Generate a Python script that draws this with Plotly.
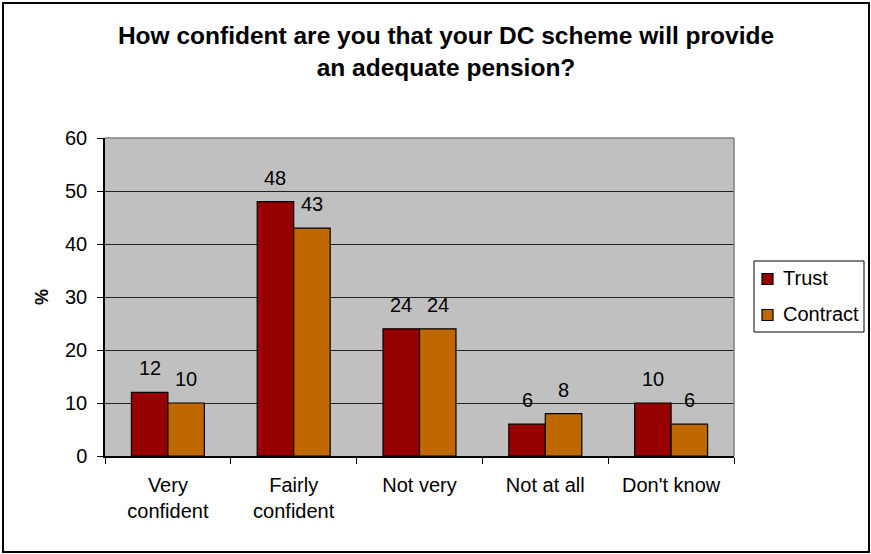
import plotly.graph_objects as go

categories = ["Very<br>confident", "Fairly<br>confident", "Not very", "Not at all", "Don't know"]
series_names = ["Trust", "Contract"]
trust = [12, 48, 24, 6, 10]
contract = [10, 43, 24, 8, 6]
y_ticks = [0, 10, 20, 30, 40, 50, 60]

TRUST_COLOR = "#960000"
CONTRACT_COLOR = "#C06800"
FONT = "Liberation Sans, Arial, sans-serif"
TXT = 20

W, H = 871, 554
ML, MR, MT, MB = 105, 137, 138, 98
plot_w = W - ML - MR
plot_h = H - MT - MB


def px_x(p):
    return (p - ML) / plot_w


def px_y(p):
    return (H - MB - p) / plot_h


fig = go.Figure()
for name, vals, color in zip(series_names, (trust, contract), (TRUST_COLOR, CONTRACT_COLOR)):
    fig.add_trace(go.Bar(
        name=name, x=categories, y=vals, marker_color=color,
        marker_line=dict(color="black", width=1.2),
    ))

# value labels above each bar
cat_px = plot_w / len(categories)
bargap = 0.42
half_bar = cat_px * (1 - bargap) / 4
for vals, sign in ((trust, -1), (contract, 1)):
    for cat, val in zip(categories, vals):
        fig.add_annotation(
            x=cat, y=val, text=str(val), showarrow=False,
            xshift=sign * half_bar, yshift=24, yanchor="middle",
            font=dict(family=FONT, size=TXT, color="black"),
        )

# plot area edges (top, right) in grey
fig.add_shape(type="line", xref="paper", yref="paper", x0=0, x1=1, y0=1, y1=1,
              line=dict(color="#808080", width=1.5))
fig.add_shape(type="line", xref="paper", yref="paper", x0=1, x1=1, y0=0, y1=1,
              line=dict(color="#808080", width=1.5))
# outer chart frame
fig.add_shape(type="rect", xref="paper", yref="paper",
              x0=px_x(3), x1=px_x(869), y0=px_y(552), y1=px_y(3),
              line=dict(color="black", width=2), layer="below")

# legend box with swatches
fig.add_shape(type="rect", xref="paper", yref="paper",
              x0=px_x(754), x1=px_x(864), y0=px_y(332), y1=px_y(261),
              line=dict(color="black", width=1), fillcolor="white")
for name, color, cy in zip(series_names, (TRUST_COLOR, CONTRACT_COLOR), (279, 315)):
    fig.add_shape(type="rect", xref="paper", yref="paper",
                  x0=px_x(762), x1=px_x(773), y0=px_y(cy + 5.5), y1=px_y(cy - 5.5),
                  line=dict(color="black", width=1.2), fillcolor=color)
    fig.add_annotation(x=px_x(781), y=px_y(cy - 1), xref="paper", yref="paper",
                       text=name, showarrow=False, xanchor="left", yanchor="middle",
                       font=dict(family=FONT, size=TXT, color="black"))

fig.update_layout(
    width=W, height=H,
    margin=dict(l=ML, r=MR, t=MT, b=MB),
    paper_bgcolor="white",
    plot_bgcolor="#C0C0C0",
    barmode="group", bargap=bargap, bargroupgap=0,
    font=dict(family=FONT, size=TXT, color="black"),
    title=dict(
        text="<b>How confident are you that your DC scheme will provide<br>an adequate pension?</b>",
        x=446 / W, xanchor="center", y=1 - 44 / H, yanchor="middle",
        font=dict(family=FONT, size=24.5, color="black"),
    ),
    showlegend=False,
)
fig.update_xaxes(
    type="category", showline=True, linecolor="black", linewidth=1.5,
    ticks="outside", ticklen=6, tickcolor="black", tickson="boundaries",
    showgrid=False, tickfont=dict(size=TXT), ticklabelstandoff=10, fixedrange=True,
)
fig.update_yaxes(
    range=[0, 60], tickvals=y_ticks, showline=True, linecolor="black", linewidth=1.5,
    ticks="outside", ticklen=6, tickcolor="black",
    showgrid=True, gridcolor="#222222", gridwidth=1, zeroline=False,
    tickfont=dict(size=TXT), ticklabelstandoff=6, fixedrange=True,
    title=dict(text="<b>%</b>", font=dict(size=18), standoff=12),
)

fig.write_html("out.html")
